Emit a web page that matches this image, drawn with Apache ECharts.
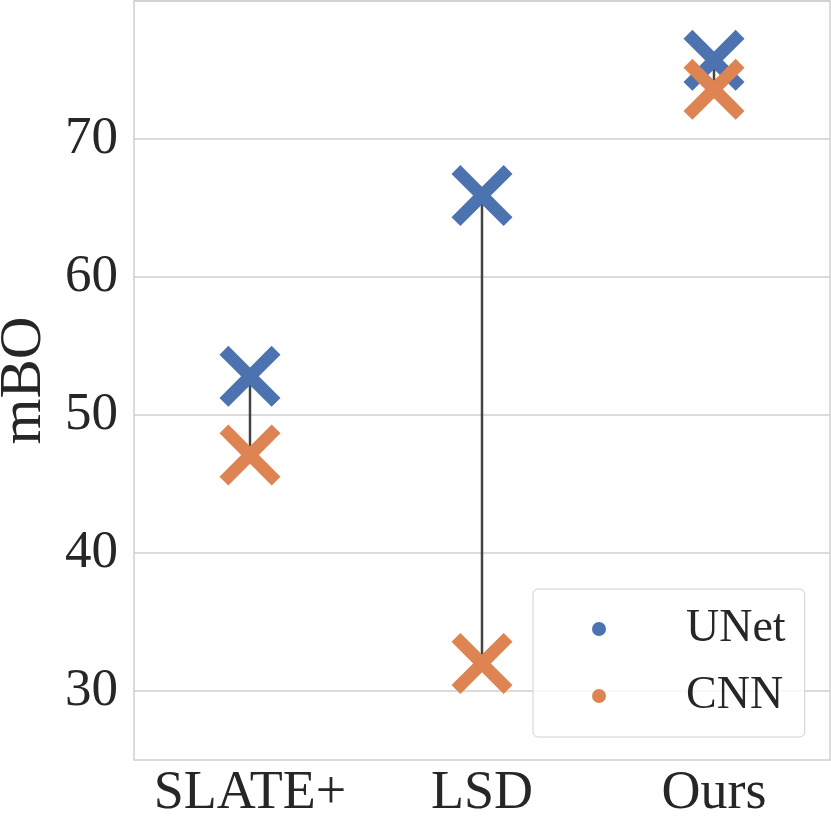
<!DOCTYPE html>
<html>
<head>
<meta charset="utf-8">
<script src="https://cdn.jsdelivr.net/npm/echarts@6/dist/echarts.min.js"></script>
<style>
  html, body { margin: 0; padding: 0; background: #fff; }
  #chart { width: 831px; height: 827px; }
</style>
</head>
<body>
<div id="chart"></div>
<script>
const methods = ["SLATE+", "LSD", "Ours"];
const unetScores = [52.8, 65.9, 75.7];
const cnnScores = [47.1, 32.0, 73.6];
const yTicks = [30, 40, 50, 60, 70];

// filled "X" marker, like matplotlib's
const xMarker = "path://M0 14.5 L14.5 0 L50 35.5 L85.5 0 L100 14.5 L64.5 50 L100 85.5 L85.5 100 L50 64.5 L14.5 100 L0 85.5 L35.5 50 Z";
const textColor = "#262626";
const gridColor = "#cfcfcf";
const font = "Liberation Serif";

const chart = echarts.init(document.getElementById("chart"));

const option = {
    backgroundColor: "#fff",
    animation: false,
    grid: {
        left: 134,
        right: 1,
        top: 1,
        bottom: 67,
        outerBoundsMode: "none",
        containLabel: false,
        show: true,
        borderColor: gridColor,
        borderWidth: 1.5,
    },
    legend: {
        orient: "vertical",
        left: 533,
        top: 589,
        padding: [14, 19, 15, 59],
        itemGap: 15,
        itemWidth: 14,
        itemHeight: 14,
        backgroundColor: "rgba(255,255,255,0.8)",
        borderColor: "#d0d0d0",
        borderWidth: 1,
        borderRadius: 5,
        data: [
            {name: "UNet", icon: "circle"},
            {name: "CNN", icon: "circle"},
        ],
        textStyle: {
            fontFamily: font,
            fontSize: 46,
            lineHeight: 52,
            color: textColor,
            padding: [0, 0, 0, 75],
        },
    },
    xAxis: {
        type: "category",
        data: methods,
        boundaryGap: true,
        axisLine: {show: false},
        axisTick: {show: false},
        splitLine: {show: false},
        axisLabel: {
            interval: 0,
            margin: 7,
            fontFamily: font,
            fontSize: 54,
            color: textColor,
        },
    },
    yAxis: {
        type: "value",
        min: 25,
        max: 80,
        interval: 5,
        name: "mBO",
        nameLocation: "middle",
        nameGap: 72,
        nameTextStyle: {
            fontFamily: font,
            fontSize: 59,
            color: textColor,
        },
        axisLine: {show: false},
        axisTick: {show: false},
        splitLine: {
            show: true,
            lineStyle: {
                // only the 10s get a grid line
                color: ["rgba(0,0,0,0)", gridColor],
                width: 1.5,
            },
        },
        axisLabel: {
            margin: 16,
            fontFamily: font,
            fontSize: 53,
            color: textColor,
            formatter: (v) => (yTicks.indexOf(v) >= 0 ? String(v) : ""),
        },
    },
    series: [
        {
            name: "range",
            type: "custom",
            z: 1,
            silent: true,
            data: methods.map((m, i) => [i, unetScores[i], cnnScores[i]]),
            renderItem: (params, api) => {
                const p1 = api.coord([api.value(0), api.value(1)]);
                const p2 = api.coord([api.value(0), api.value(2)]);
                return {
                    type: "line",
                    shape: {x1: p1[0], y1: p1[1], x2: p2[0], y2: p2[1]},
                    style: {stroke: "#444444", lineWidth: 2.5},
                };
            },
        },
        {
            name: "UNet",
            type: "scatter",
            z: 3,
            symbol: xMarker,
            symbolSize: 61,
            itemStyle: {color: "#4c72b0", opacity: 1},
            data: unetScores,
        },
        {
            name: "CNN",
            type: "scatter",
            z: 4,
            symbol: xMarker,
            symbolSize: 61,
            itemStyle: {color: "#dd8452", opacity: 1},
            data: cnnScores,
        },
    ],
};

chart.setOption(option);
</script>
</body>
</html>
